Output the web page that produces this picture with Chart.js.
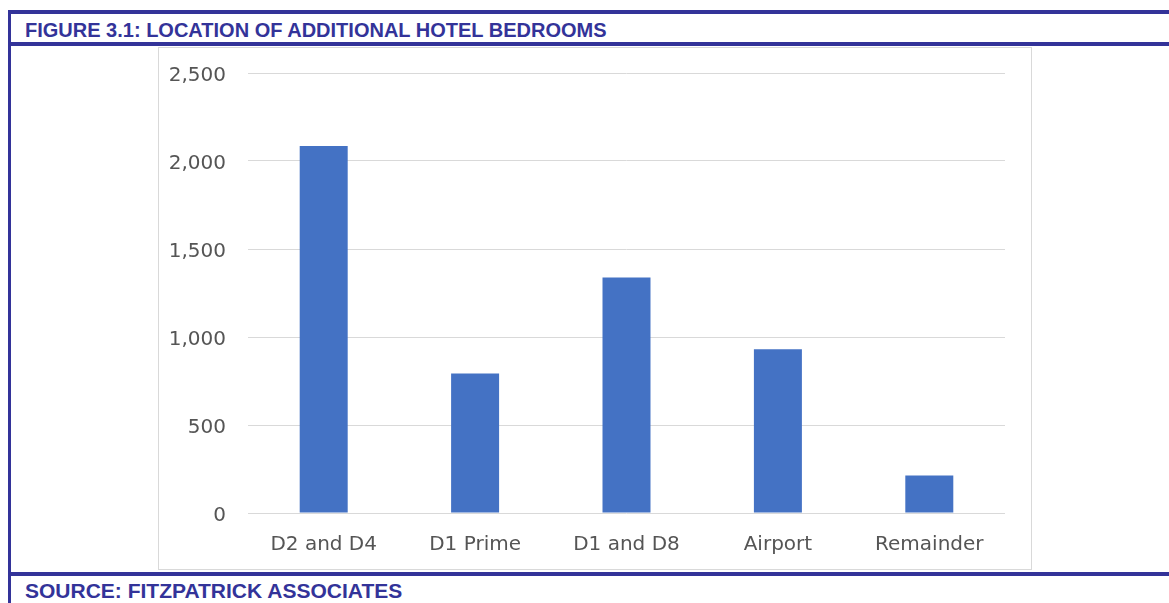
<!DOCTYPE html>
<html>
<head>
<meta charset="utf-8">
<title>Figure 3.1</title>
<script src="https://cdn.jsdelivr.net/npm/chart.js@4.4.1/dist/chart.umd.min.js"></script>
<style>
  body { margin: 0; background: #ffffff; width: 1169px; height: 603px; position: relative; overflow: hidden; }
  .rule { position: absolute; background: #333399; }
  .caption { position: absolute; left: 25px; color: #333399; font-family: "Liberation Sans", Arial, sans-serif;
             font-weight: bold; font-size: 20px; line-height: 20px; white-space: nowrap; }
  #box { position: absolute; left: 158px; top: 47px; width: 872px; height: 521px; border: 1px solid #d9d9d9; }
</style>
</head>
<body>
<div class="rule" style="left:8px; top:10px; width:1161px; height:4px;"></div>
<div class="rule" style="left:8px; top:42px; width:1161px; height:4px;"></div>
<div class="rule" style="left:8px; top:572px; width:1161px; height:4px;"></div>
<div class="rule" style="left:8px; top:10px; width:3px; height:593px;"></div>
<div class="caption" style="top:20px;">FIGURE 3.1: LOCATION OF ADDITIONAL HOTEL BEDROOMS</div>
<div class="caption" style="top:581px; font-size:21px;">SOURCE: FITZPATRICK ASSOCIATES</div>

<div id="box"><canvas id="grafico" width="872" height="521"></canvas></div>

<script>
// locais e numero de quartos adicionais
const locais = ['D2 and D4', 'D1 Prime', 'D1 and D8', 'Airport', 'Remainder'];
const quartos = [2085, 792, 1338, 930, 213];
const ticksY = [0, 500, 1000, 1500, 2000, 2500];

const fonteEixo = { family: '"DejaVu Sans", sans-serif', size: 20 };

const config = {
    type: 'bar',
    data: {
        labels: locais,
        datasets: [{
            data: quartos,
            backgroundColor: '#4472c4',
            borderWidth: 0,
            categoryPercentage: 1,
            barPercentage: 0.317
        }]
    },
    options: {
        responsive: false,
        animation: false,
        layout: { padding: { top: 25, right: 26, left: 0, bottom: 0 } },
        plugins: { legend: { display: false }, tooltip: { enabled: false } },
        scales: {
            x: {
                grid: { display: false },
                border: { display: false },
                ticks: { color: '#555555', font: fonteEixo, padding: 12 },
                afterFit: function (scale) { scale.height = 56; }
            },
            y: {
                min: 0,
                max: 2500,
                afterBuildTicks: function (scale) {
                    scale.ticks = ticksY.map(function (v) { return { value: v }; });
                },
                grid: { color: '#d9d9d9', lineWidth: 1, drawTicks: false },
                border: { display: false },
                ticks: {
                    color: '#555555',
                    font: fonteEixo,
                    padding: 22,
                    labelOffset: 3,
                    callback: function (v) { return v.toLocaleString('en-US'); }
                },
                // largura fixa e sem folga extra para os rótulos
                afterFit: function (scale) {
                    scale.width = 89;
                    scale.paddingTop = 0;
                    scale.paddingBottom = 0;
                }
            }
        }
    }
};

const meuGrafico = new Chart(document.getElementById('grafico'), config);
</script>
</body>
</html>
